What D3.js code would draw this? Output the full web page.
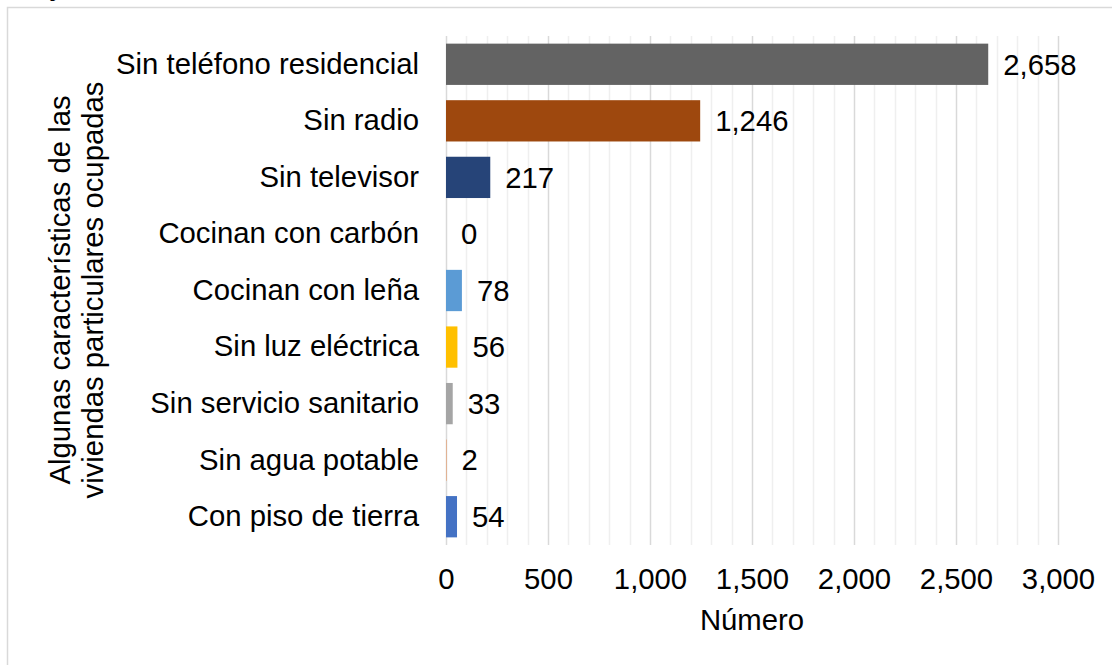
<!DOCTYPE html>
<html>
<head>
<meta charset="utf-8">
<script src="https://cdn.jsdelivr.net/npm/d3@7"></script>
<style>
  html, body { margin: 0; padding: 0; background: #fff; }
  svg { display: block; }
  text { font-family: "Liberation Sans", Arial, sans-serif; fill: #000; }
</style>
</head>
<body>
<svg id="chart" width="1112" height="665"></svg>
<script>
const categories = [
  "Sin teléfono residencial",
  "Sin radio",
  "Sin televisor",
  "Cocinan con carbón",
  "Cocinan con leña",
  "Sin luz eléctrica",
  "Sin servicio sanitario",
  "Sin agua potable",
  "Con piso de tierra"
];
const values = [2658, 1246, 217, 0, 78, 56, 33, 2, 54];
const barColors = ["#636363", "#9E480E", "#264478", "#70AD47", "#5B9BD5", "#FFC000", "#A5A5A5", "#ED7D31", "#4472C4"];
const xTicks = [0, 500, 1000, 1500, 2000, 2500, 3000];
const xMinorTicks = d3.range(0, 3001, 100);
const xTitle = "Número";
const yTitleLines = ["Algunas características de las", "viviendas particulares ocupadas"];

const FS = 29.3;
const svg = d3.select("#chart");
const fmt = d3.format(",");

// outer frame (partially visible)
svg.append("rect")
  .attr("x", 7.5).attr("y", 7.5)
  .attr("width", 1300).attr("height", 1000)
  .attr("fill", "none").attr("stroke", "#d9d9d9").attr("stroke-width", 1.5);

// cut-off title fragment at the top
svg.append("text")
  .attr("x", 52).attr("y", -5)
  .attr("font-size", FS).attr("font-style", "italic")
  .text("y");

const x = d3.scaleLinear().domain([0, 3000]).range([446, 1058]);
const y = d3.scaleBand().domain(categories).range([36, 545]).paddingInner(0.27).paddingOuter(0.135);

// minor gridlines
svg.append("g").selectAll("line").data(xMinorTicks.filter(d => d % 500 !== 0)).join("line")
  .attr("x1", d => Math.round(x(d)) + 0.5).attr("x2", d => Math.round(x(d)) + 0.5)
  .attr("y1", 36).attr("y2", 545)
  .attr("stroke", "#efefef").attr("stroke-width", 1.5);

// major gridlines
svg.append("g").selectAll("line").data(xTicks).join("line")
  .attr("x1", d => Math.round(x(d)) + 0.5).attr("x2", d => Math.round(x(d)) + 0.5)
  .attr("y1", 36).attr("y2", 545)
  .attr("stroke", "#d9d9d9").attr("stroke-width", 1.5);

// bars
svg.append("g").selectAll("rect").data(values).join("rect")
  .attr("x", x(0))
  .attr("y", (d, i) => y(categories[i]))
  .attr("width", d => x(d) - x(0))
  .attr("height", y.bandwidth())
  .attr("fill", (d, i) => barColors[i]);

// value labels
svg.append("g").selectAll("text").data(values).join("text")
  .attr("x", d => x(d) + 15)
  .attr("y", (d, i) => y(categories[i]) + y.bandwidth() / 2)
  .attr("dy", "0.35em")
  .attr("font-size", FS)
  .text(d => fmt(d));

// category axis (labels only)
const yAxis = d3.axisLeft(y).tickSize(0).tickPadding(0);
const gy = svg.append("g").attr("transform", "translate(419,0)").call(yAxis);
gy.select(".domain").remove();
gy.selectAll("text").attr("font-size", FS).attr("font-family", null).attr("fill", "#000");

// x axis (labels only)
const xAxis = d3.axisBottom(x).tickValues(xTicks).tickSize(0).tickPadding(0).tickFormat(fmt);
const gx = svg.append("g").attr("transform", "translate(0,568)").call(xAxis);
gx.select(".domain").remove();
gx.selectAll("text").attr("font-size", FS).attr("font-family", null).attr("fill", "#000").attr("dy", "0.71em");

// x title
svg.append("text")
  .attr("x", 752).attr("y", 630)
  .attr("text-anchor", "middle")
  .attr("font-size", FS)
  .text(xTitle);

// y title
const yt = svg.append("text")
  .attr("transform", "translate(0,290) rotate(-90)")
  .attr("text-anchor", "middle")
  .attr("font-size", FS);
yTitleLines.forEach((t, i) => {
  yt.append("tspan").attr("x", 0).attr("y", 70 + i * 33).text(t);
});
</script>
</body>
</html>
